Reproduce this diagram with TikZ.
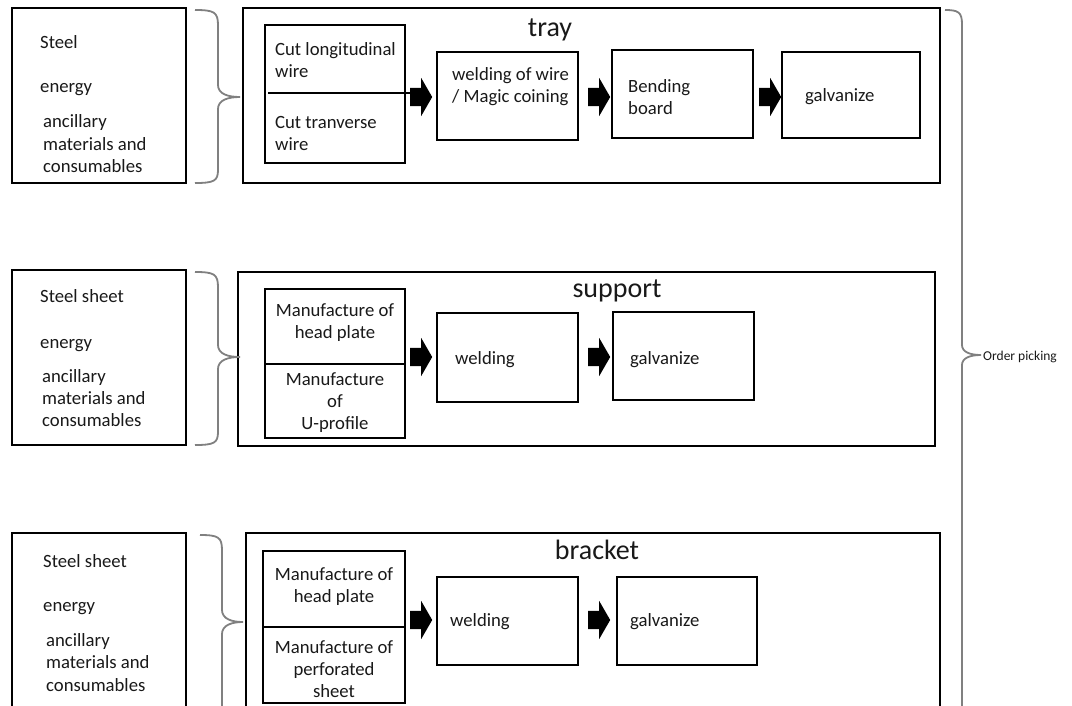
\documentclass[tikz,border=0pt]{standalone}
\usepackage{fontspec}
\setmainfont{Carlito}
\usetikzlibrary{shapes.arrows}
\begin{document}
\begin{tikzpicture}[x=1pt,y=-1pt,
 box/.style={draw=black, line width=2.2pt, inner sep=0pt, outer sep=0pt},
 t/.style={anchor=mid west, inner sep=0pt, yshift=-2.5pt, font=\fontsize{18.7}{22}\selectfont, text=black!90},
 tc/.style={t, anchor=mid},
 ttl/.style={anchor=mid, inner sep=0pt, yshift=-5pt, font=\fontsize{28}{32}\selectfont, text=black!90},
 barrow/.style={single arrow, fill=black, inner sep=0pt, minimum height=22pt, text height=18pt, text depth=0pt, text width=0pt, single arrow head extend=10pt, single arrow tip angle=120, anchor=tail},
 brace/.style={draw=black!50, line width=1.8pt},
 divider/.style={draw=black, line width=1.2pt}]
\useasboundingbox (0,0) rectangle (1072,705);
\clip (0,0) rectangle (1072,705);
\fill[white] (0,0) rectangle (1072,705);

% ---------- tray row ----------
\node[box, minimum width=174pt, minimum height=175pt] (in1) at (99,95.5) {};
\node[box, minimum width=697pt, minimum height=175pt] (tray) at (591.5,95.5) {};
\node[box, minimum width=140pt, minimum height=138pt] (cut) at (335,94) {};
\node[box, minimum width=141pt, minimum height=88pt] (weld1) at (507.5,96) {};
\node[box, minimum width=141pt, minimum height=88pt] (bend) at (682.5,94) {};
\node[box, minimum width=138pt, minimum height=86pt] (galv1) at (851,95) {};
\coordinate (d1a) at (268,93);
\coordinate (d1b) at (410,93);
\draw[divider] (d1a) -- (d1b);

\node[t] (s1) at (40,44) {Steel};
\node[t] (e1) at (40,88) {energy};
\node[t] (a1) at (43,123) {ancillary};
\node[t] (m1) at (43,145.5) {materials and};
\node[t] (c1) at (43,168) {consumables};
\node[ttl] (tt1) at (550,29) {tray};
\node[t] (cl1) at (275,51) {Cut longitudinal};
\node[t] (cl2) at (275,73) {wire};
\node[t] (ct1) at (275,123.5) {Cut tranverse};
\node[t] (ct2) at (275,145.5) {wire};
\node[t] (w11) at (452,75.5) {welding of wire};
\node[t] (w12) at (452,97.5) {/ Magic coining};
\node[t] (b11) at (628,87.5) {Bending};
\node[t] (b12) at (628,109.5) {board};
\node[t] (g1) at (805,97) {galvanize};

\node[barrow] (ar11) at (410,97) {};
\node[barrow] (ar12) at (588,97) {};
\node[barrow] (ar13) at (759,97) {};

\draw[brace] (195,10) .. controls (214,10) and (218,12) .. (218,25) -- (218,85)
  .. controls (218,94) and (228,97) .. (240,97)
  .. controls (228,97) and (218,100) .. (218,109) -- (218,170)
  .. controls (218,181) and (214,183) .. (195,183);

% ---------- support row ----------
\node[box, minimum width=174pt, minimum height=175pt] (in2) at (99,357.5) {};
\node[box, minimum width=697pt, minimum height=174pt] (sup) at (586.5,359) {};
\node[box, minimum width=140pt, minimum height=149pt] (man2) at (335,363.5) {};
\node[box, minimum width=141pt, minimum height=89pt] (weld2) at (507.5,357.5) {};
\node[box, minimum width=141pt, minimum height=88pt] (galv2) at (683.5,356) {};
\draw[divider] (man2.west |- 0,364) -- (man2.east |- 0,364);

\node[t] (s2) at (40,298) {Steel sheet};
\node[t] (e2) at (40,344) {energy};
\node[t] (a2) at (42,378) {ancillary};
\node[t] (m2) at (42,400) {materials and};
\node[t] (c2) at (42,422) {consumables};
\node[ttl] (tt2) at (617,290) {support};
\node[tc] (h21) at (335,312) {Manufacture of};
\node[tc] (h22) at (335,334) {head plate};
\node[tc] (u21) at (335,381) {Manufacture};
\node[tc] (u22) at (335,403) {of};
\node[tc] (u23) at (335,425) {U-profile};
\node[t] (w2) at (455,360) {welding};
\node[t] (g2) at (630,360) {galvanize};

\node[barrow] (ar21) at (410,357) {};
\node[barrow] (ar22) at (588,357) {};

\draw[brace] (195,272) .. controls (214,272) and (218,274) .. (218,287) -- (218,345)
  .. controls (218,354) and (228,357) .. (240,357)
  .. controls (228,357) and (218,360) .. (218,369) -- (218,432)
  .. controls (218,443) and (214,445) .. (195,445);

% ---------- bracket row ----------
\node[box, minimum width=174pt, minimum height=227pt] (in3) at (99,646.5) {};
\node[box, minimum width=694pt, minimum height=227pt] (brk) at (593,646.5) {};
\node[box, minimum width=142pt, minimum height=152pt] (man3) at (334,627) {};
\node[box, minimum width=141pt, minimum height=88pt] (weld3) at (507.5,621) {};
\node[box, minimum width=140pt, minimum height=88pt] (galv3) at (687,621) {};
\draw[divider] (man3.west |- 0,627) -- (man3.east |- 0,627);

\node[t] (s3) at (43,563) {Steel sheet};
\node[t] (e3) at (43,607) {energy};
\node[t] (a3) at (46,642) {ancillary};
\node[t] (m3) at (46,664) {materials and};
\node[t] (c3) at (46,686.5) {consumables};
\node[ttl] (tt3) at (597,552) {bracket};
\node[tc] (h31) at (334,576) {Manufacture of};
\node[tc] (h32) at (334,597.5) {head plate};
\node[tc] (p31) at (334,649) {Manufacture of};
\node[tc] (p32) at (334,671) {perforated};
\node[tc] (p33) at (334,693) {sheet};
\node[t] (w3) at (450,622) {welding};
\node[t] (g3) at (630,622) {galvanize};

\node[barrow] (ar31) at (410,620) {};
\node[barrow] (ar32) at (588,620) {};

\draw[brace] (200,535) .. controls (218,535) and (222,537) .. (222,550) -- (222,610)
  .. controls (222,619) and (232,622) .. (243,622)
  .. controls (232,622) and (222,625) .. (222,634) -- (222,760);

% ---------- order picking ----------
\draw[brace] (945,10) .. controls (958,10) and (962,12) .. (962,24) -- (962,345)
  .. controls (962,352) and (970,355) .. (981,355)
  .. controls (970,355) and (962,358) .. (962,365) -- (962,760);
\node[anchor=mid west, inner sep=0pt, yshift=-2pt, font=\fontsize{13.5}{15}\selectfont, text=black!90] (op) at (983,356) {Order picking};
\end{tikzpicture}
\end{document}
